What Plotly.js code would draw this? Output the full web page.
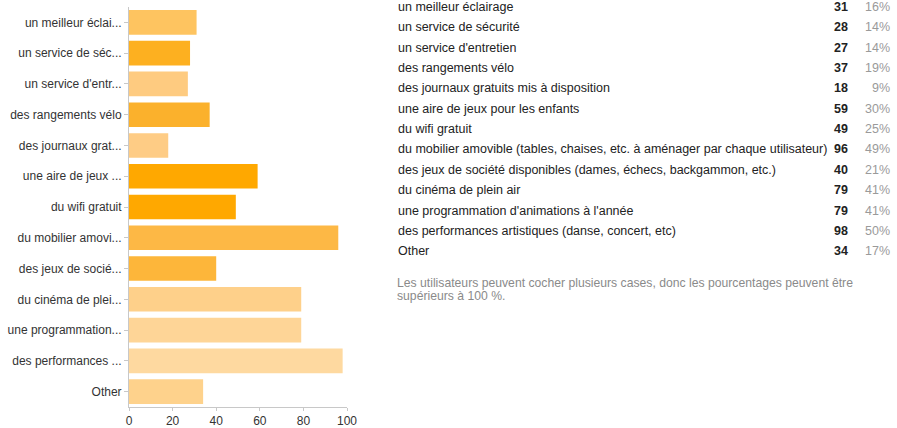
<!DOCTYPE html>
<html>
<head>
<meta charset="utf-8">
<script src="https://cdn.plot.ly/plotly-3.0.1.min.js"></script>
<style>
html,body{margin:0;padding:0;background:#fff;}
#chart{width:897px;height:428px;}
</style>
</head>
<body>
<div id="chart"></div>
<script>
var labels = [
  "un meilleur éclairage",
  "un service de sécurité",
  "un service d'entretien",
  "des rangements vélo",
  "des journaux gratuits mis à disposition",
  "une aire de jeux pour les enfants",
  "du wifi gratuit",
  "du mobilier amovible (tables, chaises, etc. à aménager par chaque utilisateur)",
  "des jeux de société disponibles (dames, échecs, backgammon, etc.)",
  "du cinéma de plein air",
  "une programmation d'animations à l'année",
  "des performances artistiques (danse, concert, etc)",
  "Other"
];
var shortLabels = [
  "un meilleur éclai...",
  "un service de séc...",
  "un service d'entr...",
  "des rangements vélo",
  "des journaux grat...",
  "une aire de jeux ...",
  "du wifi gratuit",
  "du mobilier amovi...",
  "des jeux de socié...",
  "du cinéma de plei...",
  "une programmation...",
  "des performances ...",
  "Other"
];
var counts = [31, 28, 27, 37, 18, 59, 49, 96, 40, 79, 79, 98, 34];
var percents = ["16%", "14%", "14%", "19%", "9%", "30%", "25%", "49%", "21%", "41%", "41%", "50%", "17%"];
var xTicks = [0, 20, 40, 60, 80, 100];
var footnoteLines = [
  "Les utilisateurs peuvent cocher plusieurs cases, donc les pourcentages peuvent être",
  "supérieurs à 100 %."
];

var barColors = ["#fec460", "#fdb020", "#fecb80", "#fbb12c", "#fecc85", "#ffa800", "#ffa800",
                 "#fdb845", "#fdb63a", "#fed08a", "#fed597", "#fed9a0", "#fed28c"];

var FONT = "Liberation Sans, Arial, Helvetica, sans-serif";

// plot area pixel geometry
var L = 129, R = 347, T = 7, B = 407;
function px2x(p){ return (p - L) / (R - L); }
function py2y(p){ return (B - p) / (B - T); }

var annotations = [];
var rowTop = 7, rowStep = 20.35;
for (var i = 0; i < labels.length; i++) {
  var py = rowTop + i * rowStep;
  annotations.push({xref:"paper", yref:"paper", x:px2x(396), y:py2y(py), xanchor:"left", yanchor:"middle",
    text:labels[i], showarrow:false, font:{family:FONT, size:12.5, color:"#222"}});
  annotations.push({xref:"paper", yref:"paper", x:px2x(850), y:py2y(py), xanchor:"right", yanchor:"middle",
    text:"<b>"+counts[i]+"</b>", showarrow:false, font:{family:FONT, size:12.5, color:"#222"}});
  annotations.push({xref:"paper", yref:"paper", x:px2x(892), y:py2y(py), xanchor:"right", yanchor:"middle",
    text:percents[i], showarrow:false, font:{family:FONT, size:12.5, color:"#9a9a9a"}});
}
for (var j = 0; j < footnoteLines.length; j++) {
  annotations.push({xref:"paper", yref:"paper", x:px2x(396), y:py2y(283 + j * 13), xanchor:"left", yanchor:"middle",
    text:footnoteLines[j], showarrow:false, borderpad:0, font:{family:FONT, size:12.2, color:"#8a8a8a"}});
}

var trace = {
  type:"bar",
  orientation:"h",
  y:labels,
  x:counts,
  marker:{color:barColors, line:{width:0}},
  width:0.8,
  hoverinfo:"none"
};

var layout = {
  width:897, height:428,
  margin:{l:L, r:897-R, t:T, b:428-B, pad:0},
  paper_bgcolor:"#fff", plot_bgcolor:"#fff",
  showlegend:false,
  font:{family:FONT, size:12, color:"#333"},
  xaxis:{
    range:[0,100], tickvals:xTicks, ticktext:xTicks.map(String),
    showgrid:false, zeroline:false, showline:true, linecolor:"#c8c8c8", linewidth:1,
    ticks:"outside", ticklen:3, tickcolor:"#c8c8c8",
    tickfont:{family:FONT, size:12, color:"#333"}, fixedrange:true
  },
  yaxis:{
    type:"category", autorange:"reversed",
    tickvals:labels, ticktext:shortLabels,
    showgrid:false, zeroline:false, showline:true, linecolor:"#c8c8c8", linewidth:1,
    ticks:"outside", ticklen:4, tickcolor:"#c8c8c8",
    tickfont:{family:FONT, size:12, color:"#333"}, fixedrange:true
  },
  annotations:annotations
};

Plotly.newPlot("chart", [trace], layout, {displayModeBar:false, staticPlot:true});
</script>
</body>
</html>
